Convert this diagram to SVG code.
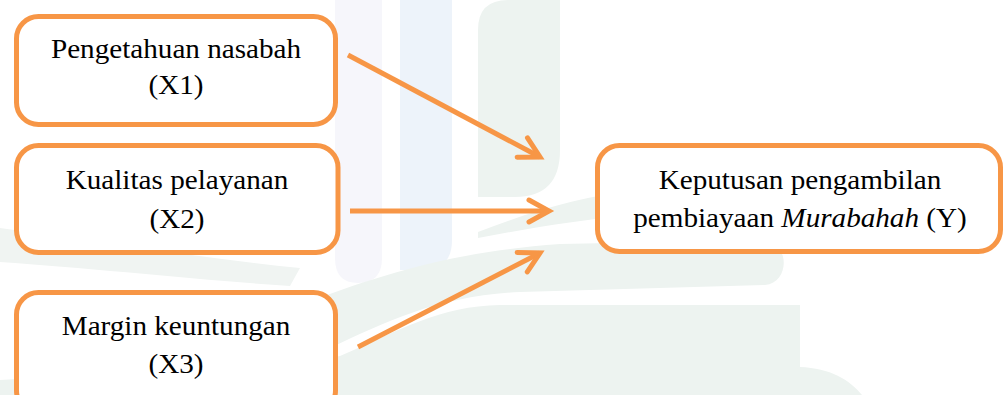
<svg xmlns="http://www.w3.org/2000/svg" width="1003" height="395" viewBox="0 0 1003 395">
<style>
.box{fill:#ffffff;stroke:#F79646;stroke-width:5}
.lbl{font-family:"Liberation Serif","Times New Roman",serif;font-size:27px;fill:#000;text-anchor:middle}
.conn{fill:none;stroke:#F79646;stroke-width:5;marker-end:url(#arr)}
</style>
<defs>
<marker id="arr" markerUnits="userSpaceOnUse" orient="auto" refX="0" refY="0" markerWidth="40" markerHeight="40" viewBox="-30 -20 40 40" overflow="visible">
<path d="M-20,-11 L0,0 L-20,11" fill="none" stroke="#F79646" stroke-width="5" stroke-linecap="round" stroke-linejoin="miter"/>
</marker>
</defs>
<rect width="1003" height="395" fill="#ffffff"/>
<g id="watermark">
<path d="M335,0 H382 V258 Q382,283 358,283 Q335,283 335,258 Z" fill="#f6f6fb"/>
<path d="M400,0 H452 V240 Q452,270 422,270 H400 Z" fill="#edf3fa"/>
<path d="M478,30 Q478,0 508,0 H560 V150 Q560,197 515,197 H478 Z" fill="#edf3f0"/>
<path d="M478,232 C530,212 580,196 640,190 L640,214 C580,220 530,228 478,238 Z" fill="#edf3f0"/>
<path d="M300,305 C380,275 450,252 560,244 L765,240 C790,244 790,282 765,285 L520,292 C440,296 390,320 330,348 Z" fill="#edf3f0"/>
<path d="M0,395 L0,380 C150,372 290,366 340,356 C400,330 440,306 500,305 L800,305 L800,367 C830,368 850,380 862,395 Z" fill="#edf3f0"/>
<path d="M0,228 C90,240 200,258 300,268 L290,286 C200,280 90,268 0,262 Z" fill="#f0f4f2"/>
</g>
<g id="connectors">
<path class="conn" d="M348,55 L540,157"/>
<path class="conn" d="M350,211 L549,211"/>
<path class="conn" d="M358,347 L540,253"/>
</g>
<g id="node-x1">
<rect class="box" x="16.5" y="16.5" width="319" height="108" rx="22"/>
<text class="lbl" transform="matrix(1.08 0 0 1 176 0)" x="0" y="58">Pengetahuan nasabah</text>
<text class="lbl" transform="matrix(1.08 0 0 1 176 0)" x="0" y="94">(X1)</text>
</g>
<g id="node-x2">
<rect class="box" x="16.5" y="145.5" width="321.5" height="107" rx="22"/>
<text class="lbl" transform="matrix(1.08 0 0 1 177 0)" x="0" y="189">Kualitas pelayanan</text>
<text class="lbl" transform="matrix(1.08 0 0 1 177 0)" x="0" y="228">(X2)</text>
</g>
<g id="node-x3">
<rect class="box" x="16.5" y="292.5" width="319" height="120" rx="22"/>
<text class="lbl" transform="matrix(1.08 0 0 1 176 0)" x="0" y="335">Margin keuntungan</text>
<text class="lbl" transform="matrix(1.08 0 0 1 176 0)" x="0" y="373">(X3)</text>
</g>
<g id="node-y">
<rect class="box" x="597.5" y="145.5" width="403" height="106" rx="22"/>
<text class="lbl" transform="matrix(1.08 0 0 1 800 0)" x="0" y="189">Keputusan pengambilan</text>
<text class="lbl" transform="matrix(1.08 0 0 1 800 0)" x="0" y="227">pembiayaan <tspan font-style="italic">Murabahah</tspan> (Y)</text>
</g>
</svg>
